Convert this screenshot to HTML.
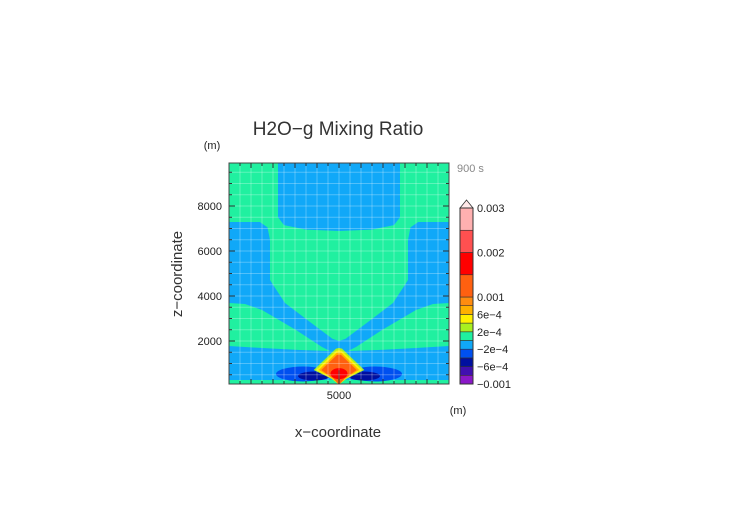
<!DOCTYPE html>
<html><head><meta charset="utf-8"><style>
html,body{margin:0;padding:0;background:#fff;}
svg{display:block;font-family:"Liberation Sans",sans-serif;}
</style></head><body>
<svg id="chart" width="752" height="532" viewBox="0 0 752 532" xmlns="http://www.w3.org/2000/svg">
<text x="338" y="135" text-anchor="middle" font-size="19" fill="#333">H2O−g Mixing Ratio</text>
<text x="212" y="149" text-anchor="middle" font-size="11" fill="#222">(m)</text>
<text x="457" y="172" font-size="11" fill="#888">900 s</text>
<text x="458" y="414" text-anchor="middle" font-size="11" fill="#222">(m)</text>
<text x="338" y="437" text-anchor="middle" font-size="15" fill="#333">x−coordinate</text>
<text transform="translate(182,274) rotate(-90)" text-anchor="middle" font-size="15" fill="#333">z−coordinate</text>
<g id="plot"></g>
<g id="cbar"></g>
</svg>
<script>
const xTicks=[5000];
const zTicks=[2000,4000,6000,8000];
const cbLevels=[-0.001,-0.0008,-0.0006,-0.0004,-0.0002,0,0.0002,0.0004,0.0006,0.0008,0.001,0.0015,0.002,0.0025,0.003];
const cbColors=["#8a18c8","#4010b0","#0010a0","#0050f0","#10a8f8","#20f0a0","#a8f020","#fff000","#ffb000","#ff8c10","#ff6010","#ff0000","#ff5050","#ffb0b0"];
const cbLabels=[["0.003",0.003],["0.002",0.002],["0.001",0.001],["6e−4",0.0006],["2e−4",0.0002],["−2e−4",-0.0002],["−6e−4",-0.0006],["−0.001",-0.001]];
const ns="http://www.w3.org/2000/svg";
const X0=229,X1=449,Y0=163,Y1=384;
const sx=x=>X0+x*0.022;
const sz=z=>386-z*0.0225;
function el(tag,parent,attrs){const e=document.createElementNS(ns,tag);for(const k in attrs)e.setAttribute(k,attrs[k]);parent.appendChild(e);return e;}
function poly(pts,mirror){let p=pts.slice();if(mirror){const m=pts.slice().reverse().map(([x,z])=>[10000-x,z]);p=p.concat(m);}return p.map(([x,z])=>sx(x).toFixed(1)+","+sz(z).toFixed(1)).join(" ");}
const plot=document.getElementById('plot');
const cp=el('clipPath',plot,{id:'pc'});el('rect',cp,{x:X0,y:Y0,width:X1-X0,height:Y1-Y0});
const g=el('g',plot,{'clip-path':'url(#pc)'});

el('rect',g,{x:X0,y:Y0,width:X1-X0,height:Y1-Y0,fill:cbColors[5]});
let r=el('rect',g,{x:X0,y:sz(7289),width:X1-X0,height:sz(267)-sz(7289),fill:cbColors[4]});

let p=el('polygon',g,{fill:cbColors[5],points:poly([[0,10000],[0,7400],[1400,7289],[1750,7050],[1864,6489],[1864,4711],[2000,4500],[2545,3689],[3682,2844],[4700,2100],[5000,2000]],true)+" "+sx(10000)+","+sz(10000)});

p=el('polygon',g,{fill:cbColors[4],points:poly([[2227,10000],[2227,7500],[2500,7150],[3500,6950],[5000,6889]],true)});

const lobe=[[0,3689],[727,3644],[1500,3378],[3045,2489],[4227,1733],[4591,1556],[3227,1600],[1500,1689],[0,1778]];
p=el('polygon',g,{fill:cbColors[5],points:poly(lobe)});

p=el('polygon',g,{fill:cbColors[5],points:poly(lobe.map(([x,z])=>[10000-x,z]))});

p=el('rect',g,{x:X0,y:sz(267),width:X1-X0,height:Y1-sz(267),fill:cbColors[5]});

[3364,6636].forEach(cx=>{let e=el('ellipse',g,{cx:sx(cx),cy:sz(533),rx:27,ry:7.5,fill:cbColors[3]});});
[3864,6136].forEach(cx=>{let e=el('ellipse',g,{cx:sx(cx),cy:sz(444),rx:16,ry:4.5,fill:cbColors[2]});});
const bump=[[1,cbColors[6]],[0.9,cbColors[7]],[0.8,cbColors[8]],[0.7,cbColors[10]]];
bump.forEach(([s,c])=>{const cx=5000,cz=711;const hw=1150*s,ht=980*s,hb=650;
 const pts=[[cx-hw,cz],[cx-hw*0.5,cz+ht*0.55],[cx-hw*0.12,cz+ht*0.97],[cx,cz+ht],[cx+hw*0.12,cz+ht*0.97],[cx+hw*0.5,cz+ht*0.55],[cx+hw,cz],[cx+hw*0.3,cz-hb*0.6],[cx,cz-hb],[cx-hw*0.3,cz-hb*0.6]];
 let e=el('polygon',g,{fill:c,points:poly(pts)});});
let e=el('ellipse',g,{cx:sx(5000),cy:sz(550),rx:8.5,ry:5.5,fill:cbColors[11]});
el('line',g,{x1:sx(5000),x2:sx(5000),y1:sz(700),y2:Y1,stroke:'#222','stroke-width':1});
const grid=el('g',g,{stroke:'rgba(255,255,255,0.28)','stroke-width':1});
for(let x=0;x<=10000;x+=500)el('line',grid,{x1:sx(x),x2:sx(x),y1:Y0,y2:Y1});
for(let z=0;z<=10000;z+=500)el('line',grid,{x1:X0,x2:X1,y1:sz(z),y2:sz(z)});
let fr=el('rect',plot,{x:X0,y:Y0,width:X1-X0,height:Y1-Y0,fill:'none',stroke:'#444','stroke-width':1});

const tk=el('g',plot,{stroke:'#333','stroke-width':1});
for(let x=500;x<10000;x+=500){const L=x%1000?3:5;el('line',tk,{x1:sx(x),x2:sx(x),y1:Y1,y2:Y1-L});el('line',tk,{x1:sx(x),x2:sx(x),y1:Y0,y2:Y0+L});}
for(let z=500;z<10000;z+=500){const L=z%2000?3:6;el('line',tk,{x1:X0,x2:X0+L,y1:sz(z),y2:sz(z)});el('line',tk,{x1:X1,x2:X1-L,y1:sz(z),y2:sz(z)});}
zTicks.forEach(z=>{let t=el('text',plot,{x:222,y:sz(z)+4,'text-anchor':'end','font-size':11,fill:'#222'});t.textContent=z;});
xTicks.forEach(x=>{let t=el('text',plot,{x:sx(x),y:399,'text-anchor':'middle','font-size':11,fill:'#222'});t.textContent=x;});
// colorbar
const cb=document.getElementById('cbar');
const CX=460,CW=13;
const cy=v=>v>=0.001?297-(v-0.001)*44500:297+(0.001-v)/0.0002*8.7;
for(let i=0;i<cbColors.length;i++){const yt=cy(cbLevels[i+1]),yb=cy(cbLevels[i]);let b=el('rect',cb,{x:CX,y:yt,width:CW,height:yb-yt,fill:cbColors[i],stroke:'#333','stroke-width':0.6});}
const CB1=cy(0.003),CB0=cy(-0.001);
let tri=el('polygon',cb,{points:`${CX},${CB1} ${CX+CW/2},${CB1-8} ${CX+CW},${CB1}`,fill:'#ffe8e8',stroke:'#333','stroke-width':0.8});

el('rect',cb,{x:CX,y:CB1,width:CW,height:CB0-CB1,fill:'none',stroke:'#333','stroke-width':1});
cbLabels.forEach(([s,v])=>{const y=cy(v);let t=el('text',cb,{x:CX+CW+4,y:y+4,'font-size':11,fill:'#222'});t.textContent=s;});
</script>
</body></html>
